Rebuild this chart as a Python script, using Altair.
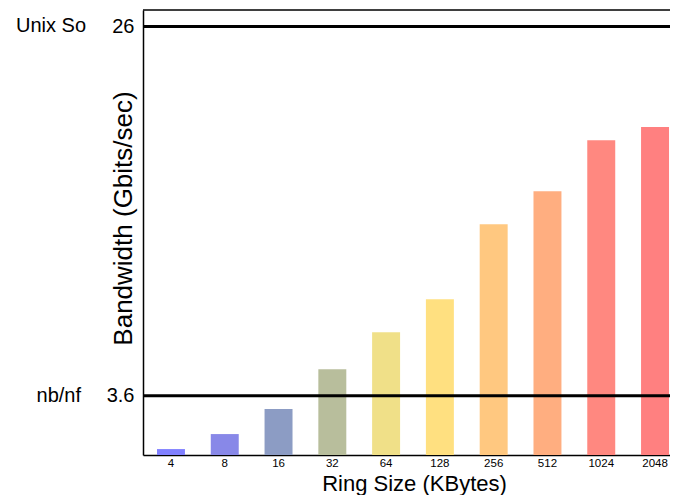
import altair as alt
import pandas as pd

ring_sizes = ["4", "8", "16", "32", "64", "128", "256", "512", "1024", "2048"]
bandwidth = [0.36, 1.27, 2.79, 5.21, 7.45, 9.45, 14.0, 16.0, 19.1, 19.9]
bar_colors = ["#8080ff", "#8888e8", "#8c9cc4", "#b8be9c", "#f0e088",
              "#ffe080", "#ffc880", "#ffae80", "#ff8880", "#ff8080"]

ref_values = [3.6, 26]
ref_labels = ["nb/nf", "Unix So"]

FONT = "Liberation Sans"

bars_df = pd.DataFrame({"size": ring_sizes, "bw": bandwidth})
ref_df = pd.DataFrame({"value": ref_values, "label": ref_labels})

y_scale = alt.Scale(domain=[0, 27], nice=False, zero=True)
x_scale = alt.Scale(paddingInner=0.48, paddingOuter=0.26, range=[0, 540])

bars = alt.Chart(bars_df).mark_bar().encode(
    x=alt.X("size:N", sort=ring_sizes, scale=x_scale,
            axis=alt.Axis(title="Ring Size (KBytes)", labelAngle=0, ticks=False, tickSize=0,
                          labelFontSize=11.5, labelPadding=2, labelColor="black",
                          labelFont=FONT, titleFont=FONT, titleFontSize=22,
                          titleFontWeight="normal", titleColor="black",
                          titleBaseline="alphabetic", titleY=35, titleX=271,
                          domainColor="black", domainWidth=1.5, grid=False)),
    y=alt.Y("bw:Q", scale=y_scale,
            axis=alt.Axis(title="Bandwidth (Gbits/sec)", values=ref_values, format="~g",
                          ticks=False, tickSize=0, labelPadding=9, labelFontSize=20,
                          labelFont=FONT, labelColor="black", grid=False,
                          titleFont=FONT, titleFontSize=26, titleFontWeight="normal",
                          titleColor="black", titleBaseline="alphabetic",
                          titleX=-12, titleY=208,
                          domainColor="black", domainWidth=1.5)),
    color=alt.Color("size:N", sort=ring_sizes,
                    scale=alt.Scale(domain=ring_sizes, range=bar_colors), legend=None),
)

rules = alt.Chart(ref_df).mark_rule(color="black", strokeWidth=3).encode(
    y=alt.Y("value:Q", scale=y_scale),
    x=alt.value(0), x2=alt.value(545),
)

top_border = alt.Chart(ref_df).mark_rule(color="black", strokeWidth=1).encode(
    y=alt.value(0), x=alt.value(0), x2=alt.value(545)
)

lab_nb = alt.Chart(ref_df).transform_filter(alt.datum.label == "nb/nf").mark_text(
    align="right", baseline="middle", font=FONT, fontSize=20, color="black"
).encode(x=alt.value(-62), y=alt.Y("value:Q", scale=y_scale), text="label:N")

lab_unix = alt.Chart(ref_df).transform_filter(alt.datum.label == "Unix So").mark_text(
    align="right", baseline="middle", font=FONT, fontSize=20, color="black"
).encode(x=alt.value(-57), y=alt.Y("value:Q", scale=y_scale), text="label:N")

chart = alt.layer(bars, rules, top_border, lab_nb, lab_unix).properties(
    width=527, height=445,
    autosize=alt.AutoSizeParams(type="none"),
    padding={"left": 135, "top": 2, "right": 0, "bottom": 40},
).configure_view(strokeWidth=0)

chart.save("out.html", embed_options={"renderer": "svg", "actions": False})
